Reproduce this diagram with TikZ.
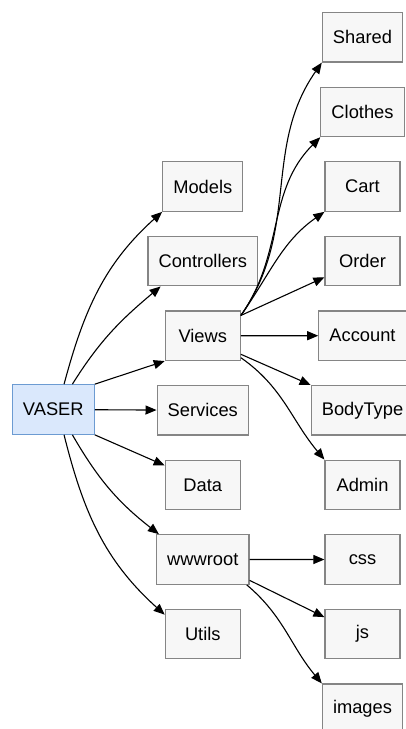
\documentclass[tikz,border=0pt]{standalone}
\usepackage{fontspec}
\setmainfont{Liberation Sans}
\usepackage{tikz}
\usetikzlibrary{arrows.meta}

\definecolor{boxfill}{HTML}{F7F7F7}
\definecolor{boxline}{HTML}{858585}
\definecolor{rootfill}{HTML}{DAE8FC}
\definecolor{rootline}{HTML}{6C9BD2}

\begin{document}
\begin{tikzpicture}[
            > = {Triangle[length=11pt, width=9pt]}, % arrow head style
            line width = 1.1pt, % edge width
            node distance = 74.6pt % distance between rows
        ]

        \tikzstyle{box}=[
            draw = boxline,
            fill = boxfill,
            line width = 1.2pt,
            minimum width = 75pt,
            minimum height = 49.5pt,
            inner xsep = 10.6pt,
            font = \fontsize{18.3pt}{22pt}\selectfont
        ]
        \tikzstyle{root}=[box, draw = rootline, fill = rootfill]

        \useasboundingbox (0,0) rectangle (406pt,-729pt);

        \node[root] (vaser) at (53.3pt,-409.5pt) {VASER};

        % project folders
        \node[box] (models) at (202.8pt,-186.5pt) {Models};
        \node[box] (controllers) [below of=models] {Controllers};
        \node[box] (views) [below of=controllers] {Views};
        \node[box] (services) [below of=views] {Services};
        \node[box] (data) [below of=services] {Data};
        \node[box] (wwwroot) [below of=data] {wwwroot};
        \node[box] (utils) [below of=wwwroot] {Utils};

        % views and static files
        \node[box] (shared) at (362.5pt,-37.3pt) {Shared};
        \node[box] (clothes) [below of=shared] {Clothes};
        \node[box] (cart) [below of=clothes] {Cart};
        \node[box] (order) [below of=cart] {Order};
        \node[box] (account) [below of=order] {Account};
        \node[box] (bodytype) [below of=account] {BodyType};
        \node[box] (admin) [below of=bodytype] {Admin};
        \node[box] (css) [below of=admin] {css};
        \node[box] (js) [below of=css] {js};
        \node[box] (images) [below of=js] {images};

        \path[->] (vaser.67) edge[out=75, in=222] (models.south west);
        \path[->] (vaser.53) edge[out=58, in=220] (controllers.211);
        \path[->] (vaser.north east) edge (views.south west);
        \path[->] (vaser) edge (services);
        \path[->] (vaser.south east) edge (data.153);
        \path[->] (vaser.-53) edge[out=-60, in=142] (wwwroot.150);
        \path[->] (vaser.-67) edge[out=-76, in=138] (utils.153);

        \path[->] (views.28) edge[out=55, in=235] (shared.south west);
        \path[->] (views.28) edge[out=55, in=225] (clothes.south west);
        \path[->] (views.28) edge[out=55, in=215] (cart.south west);
        \path[->] (views.28) edge (order.203);
        \path[->] (views) edge (account);
        \path[->] (views.-26) edge (bodytype.north west);
        \path[->] (views.-30) edge[out=-35, in=130] (admin.north west);

        \path[->] (wwwroot) edge (css);
        \path[->] (wwwroot.-24) edge (js.156);
        \path[->] (wwwroot.-30) edge[out=-40, in=130] (images.north west);

  \end{tikzpicture}
\end{document}
